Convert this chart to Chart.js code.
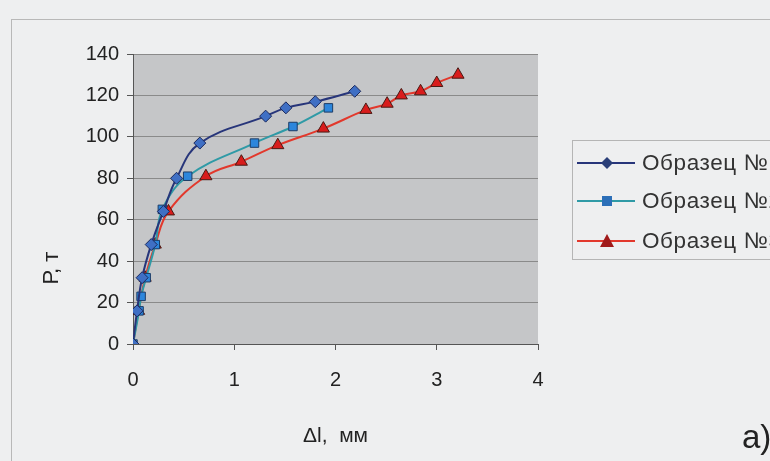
<!DOCTYPE html>
<html>
<head>
<meta charset="utf-8">
<script src="https://cdn.jsdelivr.net/npm/chart.js@4"></script>
<style>
    html, body { margin: 0; padding: 0; width: 770px; height: 461px; overflow: hidden; background: #eeeff0; }
    #wrap { position: relative; width: 770px; height: 461px; font-family: "Liberation Sans", Arial, sans-serif; }
    #frame { position: absolute; left: 11px; top: 19px; width: 780px; height: 470px; border-left: 1px solid #b8b8b8; border-top: 1px solid #b8b8b8; }
    #legend { position: absolute; left: 572px; top: 140px; width: 220px; height: 120px; border: 1px solid #b5b5b5; box-sizing: border-box; }
    .item { position: absolute; left: 0; height: 26px; white-space: nowrap; color: #333; font-size: 22.5px; letter-spacing: 0.6px; line-height: 26px; }
    .item canvas { position: absolute; left: 4px; top: 1px; }
    .item span { position: absolute; left: 69px; top: 0; }
    #tag { position: absolute; left: 742px; top: 418px; font-size: 33px; color: #222; }
    canvas#chart { position: absolute; left: 0; top: 0; }
</style>
</head>
<body>
<div id="wrap">
    <div id="frame"></div>
    <canvas id="chart" width="770" height="461"></canvas>
    <div id="legend"></div>
    <div id="tag">а)</div>
</div>
<script>
// Deformation (mm) vs load (t) for three samples
const labels = ['Образец №1', 'Образец №2', 'Образец №3'];

const dl1 = [0, 0.04, 0.09, 0.18, 0.3, 0.43, 0.66, 1.31, 1.51, 1.8, 2.19];
const p1  = [0, 16, 32, 48, 64, 80, 97, 110, 114, 117, 122];

const dl2 = [0, 0.06, 0.08, 0.13, 0.22, 0.29, 0.54, 1.2, 1.58, 1.93];
const p2  = [0, 16, 23, 32, 48, 65, 81, 97, 105, 114];

const dl3 = [0, 0.055, 0.12, 0.22, 0.35, 0.72, 1.07, 1.43, 1.88, 2.3, 2.51, 2.65, 2.84, 3.0, 3.21];
const p3  = [0, 16, 32, 48, 64, 81, 88, 96, 104, 113, 116, 120, 122, 126, 130];

const xTicks = [0, 1, 2, 3, 4];
const yTicks = [0, 20, 40, 60, 80, 100, 120, 140];

const styles = [
    { line: '#27357a', fill: '#3f6fc4', stroke: '#1c2a5e', shape: 'rectRot', radius: 6 },
    { line: '#2f9aa6', fill: '#2c86dc', stroke: '#1d3c66', shape: 'rect', radius: 6 },
    { line: '#e2382c', fill: '#d81c1c', stroke: '#4a1a14', shape: 'triangle', radius: 7 }
];

function toPoints(xs, ys) {
    return xs.map((x, i) => ({ x: x, y: ys[i] }));
}

const series = [toPoints(dl1, p1), toPoints(dl2, p2), toPoints(dl3, p3)];

const fontFamily = '"Liberation Sans", Arial, sans-serif';
const font = { family: fontFamily, size: 20 };

// gray plot area + the rotated y title (sits low, like in the scan)
const plotBg = {
    id: 'plotBg',
    beforeDraw(chart) {
        const a = chart.chartArea;
        const ctx = chart.ctx;
        ctx.save();
        ctx.fillStyle = '#c5c6c8';
        ctx.fillRect(a.left, a.top, a.right - a.left, a.bottom - a.top);
        ctx.restore();
    },
    afterDraw(chart) {
        const ctx = chart.ctx;
        ctx.save();
        ctx.translate(52, 268);
        ctx.rotate(-Math.PI / 2);
        ctx.fillStyle = '#222';
        ctx.font = '22px ' + fontFamily;
        ctx.textAlign = 'center';
        ctx.textBaseline = 'middle';
        ctx.fillText('Р, т', 0, 0);
        ctx.restore();
    }
};

new Chart(document.getElementById('chart'), {
    type: 'scatter',
    data: {
        datasets: series.map((pts, i) => ({
            label: labels[i],
            data: pts,
            showLine: true,
            borderColor: styles[i].line,
            borderWidth: 2,
            tension: 0.4,
            pointStyle: styles[i].shape,
            pointRadius: styles[i].radius,
            pointBackgroundColor: styles[i].fill,
            pointBorderColor: styles[i].stroke,
            pointBorderWidth: 1
        }))
    },
    options: {
        responsive: false,
        animation: false,
        layout: { padding: { left: 0, top: 54, right: 232, bottom: 0 } },
        plugins: {
            legend: { display: false },
            tooltip: { enabled: false }
        },
        scales: {
            x: {
                type: 'linear',
                min: 0,
                max: 4,
                afterFit(s) { s.height = 117; },
                afterBuildTicks(s) { s.ticks = xTicks.map(v => ({ value: v })); },
                border: { color: '#555', width: 1 },
                grid: { drawOnChartArea: false, drawTicks: true, tickLength: 6, color: '#555' },
                ticks: { color: '#222', font: font, padding: 18, maxRotation: 0 },
                title: { display: true, text: 'Δl,  мм', color: '#222', font: { family: fontFamily, size: 21 }, padding: { top: 0, bottom: 12 } }
            },
            y: {
                type: 'linear',
                min: 0,
                max: 140,
                afterFit(s) { s.width = 133; },
                afterBuildTicks(s) { s.ticks = yTicks.map(v => ({ value: v })); },
                border: { color: '#555', width: 1 },
                grid: { color: '#8a8a8a', tickLength: 6, tickColor: '#555' },
                ticks: { color: '#222', font: font, padding: 8 }
            }
        }
    },
    plugins: [plotBg]
});

// Legend drawn as HTML so the labels can run off the right edge like the scan
const legend = document.getElementById('legend');
const rowTops = [9, 47, 87];
labels.forEach((text, i) => {
    const row = document.createElement('div');
    row.className = 'item';
    row.style.top = rowTops[i] + 'px';
    const c = document.createElement('canvas');
    c.width = 60;
    c.height = 24;
    const ctx = c.getContext('2d');
    ctx.strokeStyle = styles[i].line;
    ctx.lineWidth = 2;
    ctx.beginPath();
    ctx.moveTo(0, 12);
    ctx.lineTo(58, 12);
    ctx.stroke();
    ctx.beginPath();
    if (i === 0) {
        ctx.moveTo(30, 6); ctx.lineTo(36, 12); ctx.lineTo(30, 18); ctx.lineTo(24, 12);
    } else if (i === 1) {
        ctx.rect(25, 7, 10, 10);
    } else {
        ctx.moveTo(30, 5); ctx.lineTo(37, 18); ctx.lineTo(23, 18);
    }
    ctx.closePath();
    ctx.fillStyle = i === 1 ? '#2c6fb8' : (i === 0 ? '#2a3f78' : '#a01a1a');
    ctx.fill();
    const span = document.createElement('span');
    span.textContent = text;
    row.appendChild(c);
    row.appendChild(span);
    legend.appendChild(row);
});
</script>
</body>
</html>
